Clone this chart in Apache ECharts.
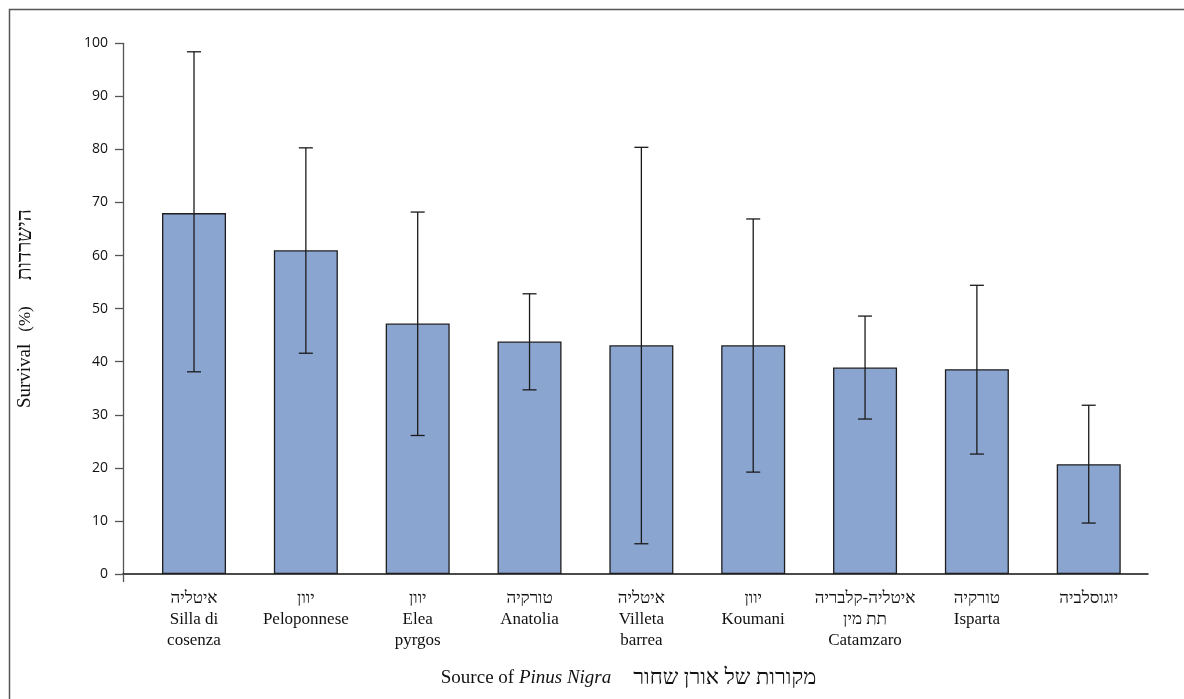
<!DOCTYPE html>
<html>
<head>
<meta charset="utf-8">
<script src="https://cdn.jsdelivr.net/npm/echarts@6/dist/echarts.min.js"></script>
<style>
html,body{margin:0;padding:0;background:#fff;}
#chart{width:1184px;height:699px;}
</style>
</head>
<body>
<div id="chart"></div>
<script>
const categories = [
  "איטליה\nSilla di\ncosenza",
  "יוון\nPeloponnese",
  "יוון\nElea\npyrgos",
  "טורקיה\nAnatolia",
  "איטליה\nVilleta\nbarrea",
  "יוון\nKoumani",
  "איטליה-קלבריה\nתת מין\nCatamzaro",
  "טורקיה\nIsparta",
  "יוגוסלביה"
];
const survival = [68.0, 61.0, 47.2, 43.8, 43.1, 43.1, 38.9, 38.6, 20.7];
const errLow   = [38.1, 41.6, 26.1, 34.7, 5.7, 19.2, 29.2, 22.6, 9.6];
const errHigh  = [98.4, 80.3, 68.2, 52.8, 80.4, 66.9, 48.6, 54.4, 31.8];

const xMin = -0.635, xMax = 8.53;
const catIdx = categories.map((c, i) => i);

const chart = echarts.init(document.getElementById('chart'), null, {renderer: 'canvas'});

function renderErr(params, api) {
  const x = api.value(0);
  const lo = api.coord([x, api.value(1)]);
  const hi = api.coord([x, api.value(2)]);
  const hw = 7;
  const st = {stroke: '#1a1a1a', lineWidth: 1.3};
  return {
    type: 'group',
    children: [
      {type: 'line', shape: {x1: lo[0], y1: lo[1], x2: hi[0], y2: hi[1]}, style: st},
      {type: 'line', shape: {x1: lo[0] - hw, y1: lo[1], x2: lo[0] + hw, y2: lo[1]}, style: st},
      {type: 'line', shape: {x1: hi[0] - hw, y1: hi[1], x2: hi[0] + hw, y2: hi[1]}, style: st}
    ]
  };
}

const serif = 'Liberation Serif';

const option = {
  backgroundColor: '#fff',
  animation: false,
  graphic: [{
    type: 'rect',
    shape: {x: 9.5, y: 9.5, width: 1200, height: 720},
    style: {fill: 'none', stroke: '#555', lineWidth: 1.5},
    silent: true
  }],
  grid: {left: 123, right: 36, top: 43.3, bottom: 125},
  xAxis: {
    type: 'value',
    min: xMin,
    max: xMax,
    splitLine: {show: false},
    axisLine: {show: true, onZero: false, lineStyle: {color: '#111', width: 1.5}},
    axisTick: {show: true, customValues: [xMin], length: 8, inside: false, lineStyle: {color: '#555', width: 1.3}},
    axisLabel: {
      customValues: catIdx,
      formatter: v => categories[Math.round(v)],
      fontFamily: serif,
      fontSize: 17,
      lineHeight: 21,
      color: '#111',
      margin: 14,
      align: 'center'
    },
    name: '{a|Source of }{i|Pinus Nigra}{h|מקורות של אורן שחור}',
    nameLocation: 'middle',
    nameGap: 93,
    nameTextStyle: {
      padding: [0, 14, 0, 0],
      rich: {
        a: {fontFamily: serif, fontSize: 19, color: '#111'},
        i: {fontFamily: serif, fontSize: 19, fontStyle: 'italic', color: '#111'},
        h: {fontFamily: serif, fontSize: 22, color: '#111', padding: [0, 0, 0, 22]}
      }
    }
  },
  yAxis: {
    type: 'value',
    min: 0,
    max: 100,
    interval: 10,
    splitLine: {show: false},
    axisLine: {show: true, onZero: false, lineStyle: {color: '#555', width: 1.3}},
    axisTick: {show: true, length: 8, inside: false, lineStyle: {color: '#555', width: 1.3}},
    axisLabel: {fontFamily: 'Open Sans', fontSize: 14, color: '#111', margin: 15},
    name: '{a|Survival}{p|(%)}{h|הישרדות}',
    nameLocation: 'middle',
    nameGap: 87,
    nameRotate: 90,
    nameTextStyle: {
      rich: {
        a: {fontFamily: serif, fontSize: 19, color: '#111'},
        p: {fontFamily: serif, fontSize: 17, color: '#111', padding: [0, 0, 0, 12]},
        h: {fontFamily: serif, fontSize: 21, color: '#111', padding: [0, 0, 0, 26]}
      }
    }
  },
  series: [
    {
      type: 'bar',
      barWidth: 64,
      data: survival.map((v, i) => [i, v]),
      itemStyle: {color: '#8BA5D1', borderColor: '#1e1e1e', borderWidth: 1.3},
      z: 2
    },
    {
      type: 'custom',
      renderItem: renderErr,
      encode: {x: 0, y: [1, 2]},
      data: errLow.map((v, i) => [i, v, errHigh[i]]),
      z: 3
    }
  ]
};
chart.setOption(option);
</script>
</body>
</html>
